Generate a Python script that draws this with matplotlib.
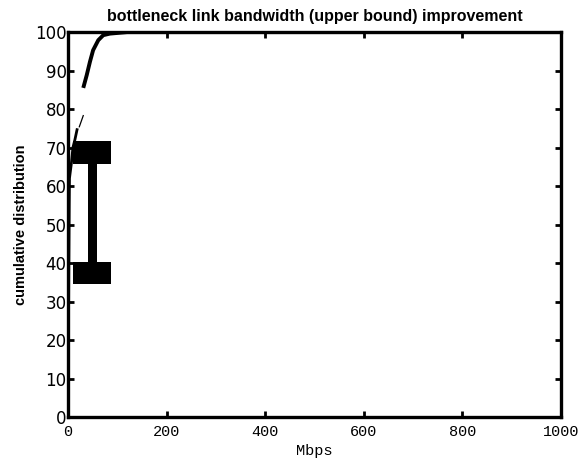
import matplotlib.pyplot as plt

# cdf of bottleneck bandwidth improvement (Mbps -> percent of paths)
low_x = [0, 0.5, 1, 1.5, 2, 2.5, 3, 7, 10, 14, 19]
low_y = [0, 8, 20, 35, 45, 55, 62, 66, 70, 72, 75]

link_x = [23, 31]
link_y = [75.4, 78.3]

high_x = [31, 38, 44.6, 51, 61.5, 71.6, 85, 120, 1000]
high_y = [85.5, 88.8, 92.3, 95.3, 97.9, 99.2, 99.6, 100, 100]

# spread marker: two caps joined by a stem
cap_left = [10, 10]
cap_width = [77, 77]
cap_bottom = [34.5, 65.7]
cap_height = [5.8, 6.0]
stem_left = 40.5
stem_width = 18.5
stem_bottom = 40.3
stem_top = 65.7

xticks = [0, 200, 400, 600, 800, 1000]
yticks = [0, 10, 20, 30, 40, 50, 60, 70, 80, 90, 100]

fig = plt.figure(figsize=(5.88, 4.65), dpi=100)
ax = fig.add_axes([0.1156, 0.1032, 0.8384, 0.8278])

ax.plot(low_x, low_y, color='black', lw=2.0, solid_capstyle='butt')
ax.plot(link_x, link_y, color='black', lw=0.9)
ax.plot(high_x, high_y, color='black', lw=2.8, solid_capstyle='butt')

ax.bar(cap_left, cap_height, width=cap_width, bottom=cap_bottom,
       align='edge', color='black', linewidth=0)
ax.bar([stem_left], [stem_top - stem_bottom], width=stem_width,
       bottom=stem_bottom, align='edge', color='black', linewidth=0)

ax.set_xlim(0, 1000)
ax.set_ylim(0, 100)
ax.set_xticks(xticks)
ax.set_yticks(yticks)
ax.set_xticklabels([str(v) for v in xticks], family='Liberation Mono', fontsize=11)
ax.set_yticklabels([str(v) for v in yticks], family='DejaVu Sans', fontsize=12)

ax.tick_params(axis='both', direction='in', length=4, width=2,
               top=True, right=True)
ax.tick_params(axis='x', pad=6)
ax.tick_params(axis='y', pad=1)
for sp in ax.spines.values():
    sp.set_linewidth(2.4)

ax.set_title('bottleneck link bandwidth (upper bound) improvement',
             family='Liberation Sans', fontweight='bold', fontsize=11.5, pad=8)
ax.set_xlabel('Mbps', family='Liberation Mono', fontsize=11, labelpad=3)
ax.set_ylabel('cumulative distribution', family='Liberation Sans',
              fontweight='bold', fontsize=10.5, labelpad=5)

fig.savefig('out.png', dpi=100)
